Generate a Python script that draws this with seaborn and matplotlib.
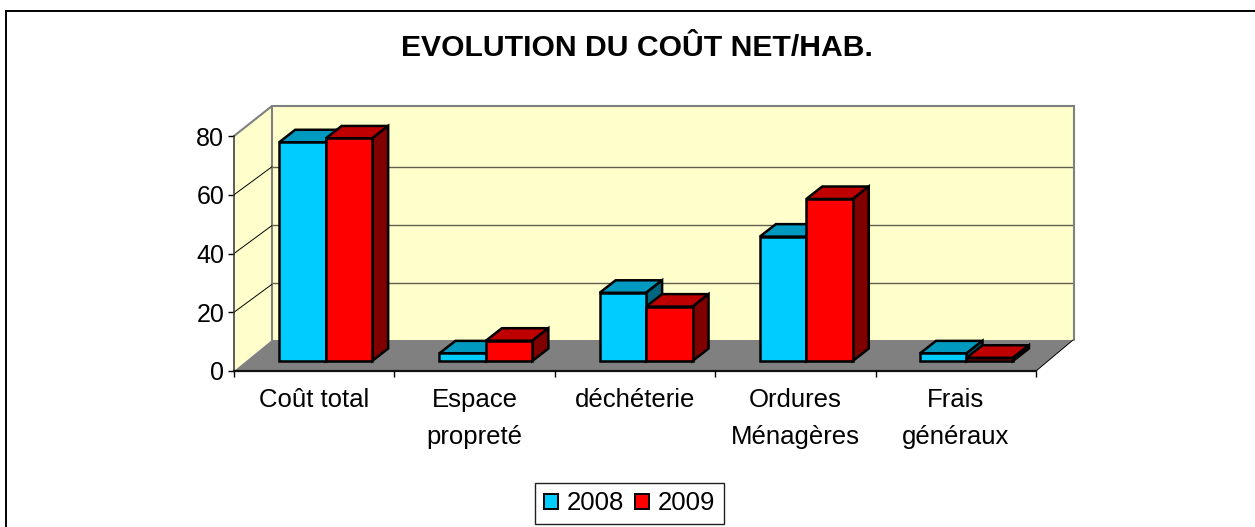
import numpy as np
import pandas as pd
import matplotlib
matplotlib.use("Agg")
import matplotlib.pyplot as plt
import seaborn as sns
from matplotlib.patches import Patch, Polygon

categories = ["Coût total", "Espace\npropreté", "déchéterie", "Ordures\nMénagères", "Frais\ngénéraux"]
years = ["2008", "2009"]
values_2008 = [74.4, 2.6, 23.2, 42.3, 2.6]
values_2009 = [75.7, 6.9, 18.5, 55.1, 1.1]
yticks = [0, 20, 40, 60, 80]

W, H = 1255, 527
DPI = 100

sns.set_theme(style="white")
plt.rcParams["font.family"] = ["Liberation Sans", "DejaVu Sans"]


def axes_px(fig, x0, y0, x1, y1, **kw):
    # y0 is the top edge, in image pixels
    return fig.add_axes([x0 / W, 1 - y1 / H, (x1 - x0) / W, (y1 - y0) / H], **kw)


def shade(color, f):
    return tuple(c * f for c in matplotlib.colors.to_rgb(color))


df = pd.DataFrame({
    "cat": categories * 2,
    "year": [years[0]] * 5 + [years[1]] * 5,
    "val": values_2008 + values_2009,
})
colors = {"2008": "#00CCFF", "2009": "#FF0000"}

fig = plt.figure(figsize=(W / DPI, H / DPI), dpi=DPI, facecolor="white")

# back wall
wall = axes_px(fig, 272, 106.5, 1074, 340.5, facecolor="#FFFFCC")
wall.set_ylim(0, 80.8)
wall.set_xlim(0, 1)
wall.set_xticks([])
wall.set_yticks(yticks[1:-1])
wall.tick_params(left=False, labelleft=False)
wall.grid(axis="y", color="#5f5f50", lw=1)
sns.despine(ax=wall, left=True, right=True, top=True, bottom=True)

# pixel canvas for the frame, floor and side wall
bg = axes_px(fig, 0, 0, W, H, facecolor="none")
bg.set_xlim(0, W)
bg.set_ylim(H, 0)
bg.axis("off")
bg.plot([6, 6, W], [H, 11, 11], color="black", lw=1.4, solid_joinstyle="miter")
bg.add_patch(Polygon([(234, 371), (234, 136), (272, 106), (272, 340)], fc="#FFFFCC", ec="none"))
bg.add_patch(Polygon([(234, 371), (1036, 371), (1073, 340), (272, 340)], fc="#808080", ec="none"))
bg.plot([234, 272, 1074, 1074], [136, 106, 106, 340], color="#808080", lw=1.5, solid_joinstyle="miter")
bg.plot([272, 272], [106, 340], color="#808080", lw=1.5)
for t in yticks[1:-1]:
    yy = 371 - t * 235 / 80
    bg.plot([234, 272], [yy, yy - 28], color="black", lw=0.7)
bg.plot([1036, 1073], [371, 340], color="black", lw=0.7)
bg.text(637, 48, "EVOLUTION DU COÛT NET/HAB.", ha="center", va="center",
        fontsize=21.7, fontweight="bold", color="black")

# front axis with ticks and labels
front = axes_px(fig, 234, 136, 1036, 371, facecolor="none")
front.set_xlim(-0.5, 4.5)
front.set_ylim(0, 80)
front.set_yticks(yticks)
front.set_xticks(np.arange(-0.5, 5, 1))
front.set_xticklabels([])
front.set_xticks(range(5), categories, minor=True)
front.tick_params(axis="x", which="major", length=4, width=1, color="black", bottom=True)
front.tick_params(axis="x", which="minor", length=0, labelsize=18.5, pad=12, labelcolor="black")
front.tick_params(axis="y", length=4, width=1, color="black", left=True, labelsize=18, pad=3, labelcolor="black")
for lab in front.get_xticklabels(minor=True):
    lab.set_linespacing(1.7)
    lab.set_va("top")
sns.despine(ax=front, right=True, top=True)
front.spines["left"].set_color("#303030")
front.spines["left"].set_linewidth(1.1)
front.spines["bottom"].set_color("#101010")
front.spines["bottom"].set_linewidth(1.6)
front.grid(False)

# bars sit part way into the depth
ax = axes_px(fig, 245.6, 125.8, 1046.6, 361, facecolor="none")
sns.barplot(data=df, x="cat", y="val", hue="year", order=categories, hue_order=years,
            palette=colors, width=0.58, saturation=1, edgecolor="black", linewidth=1.8,
            legend=False, ax=ax)
ax.set_xlim(-0.5, 4.5)
ax.set_ylim(0, 80)
ax.axis("off")

depth_x = 16 / 160.2
depth_y = 12.5 * 80 / 235.2
z = 3
bars = []
for cont, year in zip(ax.containers, years):
    bars += [(b, colors[year]) for b in cont]
bars.sort(key=lambda item: item[0].get_x())
for bar, col in bars:
    x0, w, h = bar.get_x(), bar.get_width(), bar.get_height()
    x1 = x0 + w
    top = [(x0, h), (x1, h), (x1 + depth_x, h + depth_y), (x0 + depth_x, h + depth_y)]
    side = [(x1, 0), (x1 + depth_x, depth_y), (x1 + depth_x, h + depth_y), (x1, h)]
    ax.add_patch(Polygon(top, fc=shade(col, 0.75), ec="black", lw=1.8, zorder=z, clip_on=False, joinstyle="miter"))
    ax.add_patch(Polygon(side, fc=shade(col, 0.5), ec="black", lw=1.8, zorder=z, clip_on=False, joinstyle="miter"))
    bar.set_zorder(z + 1)
    bar.set_clip_on(False)
    z += 2

handles = [Patch(fc=colors[y], ec="black", lw=1.4, label=y) for y in years]
leg = fig.legend(handles=handles, ncol=2, loc="center", bbox_to_anchor=(629.5 / W, 1 - 503.5 / H),
                 frameon=True, fancybox=False, edgecolor="#202020", framealpha=1, fontsize=18.5,
                 handlelength=0.55, handleheight=0.55, handletextpad=0.33, columnspacing=0.42,
                 borderpad=0.35, borderaxespad=0, labelcolor="black")
leg.get_frame().set_linewidth(1)

fig.savefig("out.png", dpi=DPI)
plt.close(fig)
